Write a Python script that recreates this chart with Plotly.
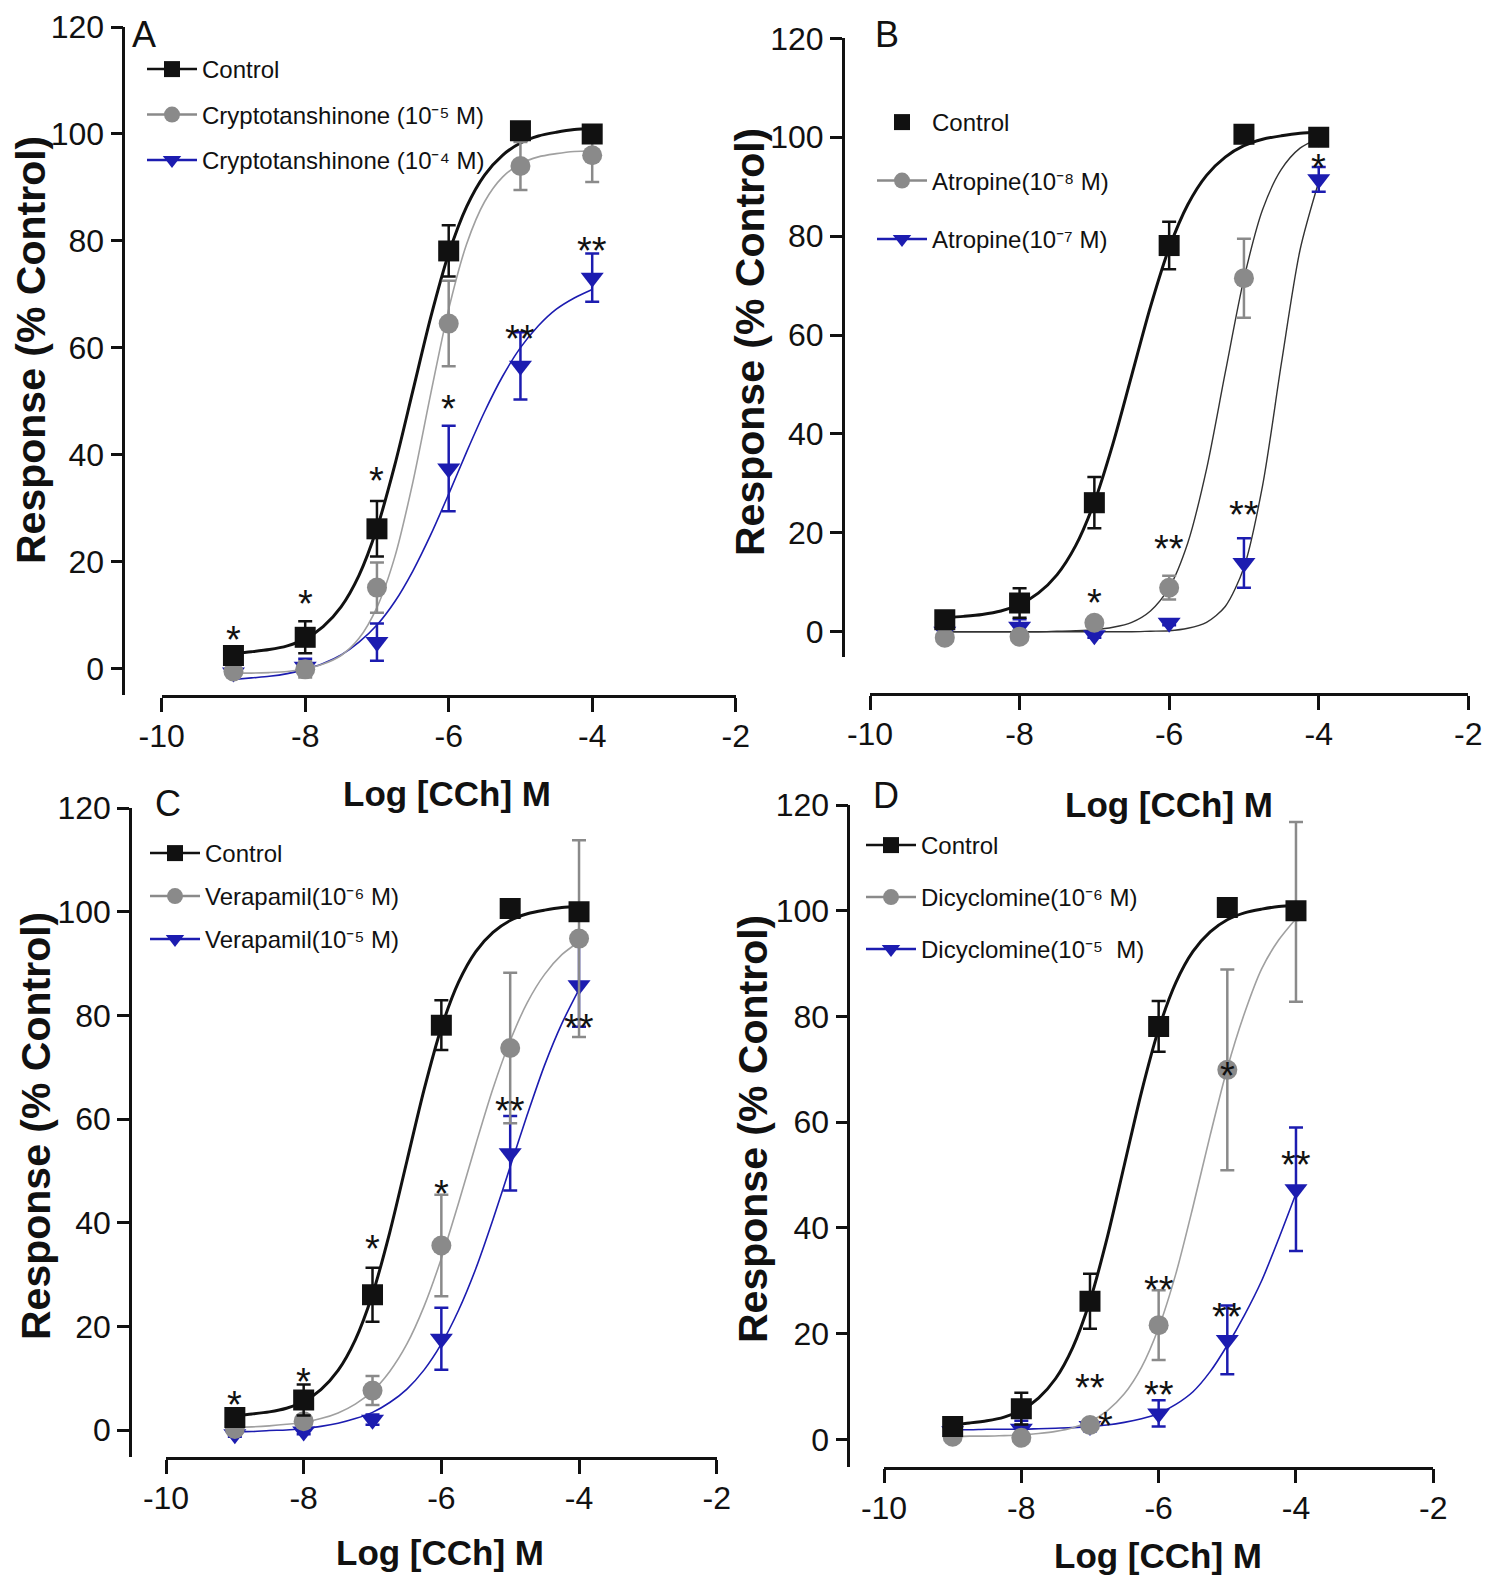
"""Carbachol concentration-response curves with four antagonist panels (A-D).

Mean +/- SEM responses (% of control) with the fitted sigmoid curves,
laid out like the GraphPad figure: offset axes, panel letters, and
significance stars above the points.
"""
import plotly.graph_objects as go

W, H = 1505, 1585
PAGE_MARGIN = 8  # the browser body margin shifts the figure by this much

# ---- data -----------------------------------------------------------------
LOG_CCH = [-9, -8, -7, -6, -5, -4]
FIT_X = [-9, -8.75, -8.5, -8.25, -8, -7.75, -7.5, -7.25, -7, -6.75, -6.5,
         -6.25, -6, -5.75, -5.5, -5.25, -5, -4.75, -4.5, -4.25, -4]

CONTROL_MEAN = [2.4, 5.8, 26.1, 78.1, 100.6, 100.0]
CONTROL_SEM = [1.2, 3.0, 5.2, 4.8, 1.0, 1.0]
CONTROL_FIT = [2.8, 3.1, 3.5, 4.2, 5.5, 7.8, 11.5, 17.4, 26.2, 38.1, 51.9,
               65.7, 77.6, 86.4, 92.3, 96.0, 98.3, 99.6, 100.3, 100.8, 101.0]

CRYPTO5_MEAN = [-0.6, -0.2, 15.1, 64.5, 94.0, 96.0]
CRYPTO5_SEM = [1.0, 1.5, 4.7, 8.0, 4.5, 5.0]
CRYPTO5_FIT = [-0.9, -0.9, -0.8, -0.6, -0.1, 0.8, 2.4, 5.6, 11.4, 20.9, 34.8,
               51.4, 67.2, 79.4, 87.3, 91.9, 94.4, 95.7, 96.3, 96.7, 96.8]

CRYPTO4_MEAN = [-0.8, 0.3, 4.9, 37.4, 56.6, 73.1]
CRYPTO4_SEM = [0.8, 1.5, 3.5, 8.0, 6.3, 4.5]
CRYPTO4_FIT = [-2.1, -1.8, -1.5, -1.0, -0.2, 0.9, 2.5, 4.9, 8.1, 12.5, 18.2,
               25.0, 32.6, 40.5, 48.0, 54.6, 60.0, 64.1, 67.2, 69.3, 70.9]

ATROPINE8_MEAN = [-1.2, -1.0, 1.8, 8.9, 71.5, 100.0]
ATROPINE8_SEM = [0.8, 0.8, 1.0, 2.4, 8.0, 1.0]
ATROPINE8_FIT = [0.0, 0.0, 0.0, 0.0, 0.0, 0.0, 0.1, 0.2, 0.4, 0.9, 1.9,
                 4.2, 8.9, 18.0, 32.9, 52.4, 71.4, 85.4, 93.5, 97.8, 99.8]

ATROPINE7_MEAN = [0.0, 1.0, -0.7, 1.8, 13.9, 91.5]
ATROPINE7_SEM = [0.5, 1.5, 0.5, 0.5, 5.0, 2.5]
ATROPINE7_FIT = [0.0, 0.0, 0.0, 0.0, 0.0, 0.0, 0.0, 0.0, 0.0, 0.0, 0.0,
                 0.1, 0.2, 0.7, 1.9, 5.1, 13.0, 29.6, 54.2, 77.2, 91.0]

VERAPAMIL6_MEAN = [0.2, 1.7, 7.6, 35.6, 73.7, 94.8]
VERAPAMIL6_SEM = [0.5, 1.0, 2.8, 9.8, 14.5, 19.0]
VERAPAMIL6_FIT = [0.5, 0.6, 0.8, 1.1, 1.5, 2.2, 3.3, 5.0, 7.5, 11.3, 16.6,
                  23.9, 33.1, 43.8, 55.1, 65.9, 75.1, 82.5, 87.9, 91.7, 94.2]

VERAPAMIL5_MEAN = [-0.8, -0.3, 2.0, 17.6, 53.4, 85.8]
VERAPAMIL5_SEM = [0.5, 0.5, 1.0, 6.0, 7.2, 8.0]
VERAPAMIL5_FIT = [-0.3, -0.3, -0.1, 0.0, 0.3, 0.7, 1.3, 2.2, 3.4, 5.3, 7.9,
                  11.6, 16.6, 23.1, 31.1, 40.6, 50.8, 60.9, 70.4, 78.4, 85.0]

DICYCLO6_MEAN = [0.5, 0.3, 2.7, 21.6, 69.9, 99.8]
DICYCLO6_SEM = [0.5, 0.5, 1.0, 6.6, 19.0, 17.0]
DICYCLO6_FIT = [0.5, 0.6, 0.6, 0.7, 0.8, 1.1, 1.5, 2.2, 3.4, 5.4, 8.6,
                13.6, 21.1, 31.3, 44.0, 57.5, 70.2, 80.6, 89.0, 94.5, 98.5]

DICYCLO5_MEAN = [1.5, 2.0, 2.5, 4.9, 18.8, 47.3]
DICYCLO5_SEM = [0.5, 1.5, 1.0, 2.5, 6.5, 11.7]
DICYCLO5_FIT = [1.8, 1.8, 1.9, 1.9, 1.9, 2.0, 2.1, 2.2, 2.4, 2.7, 3.2,
                3.9, 4.9, 6.6, 9.0, 12.8, 17.8, 23.5, 30.0, 38.0, 46.5]

LABELS_A = ["Control", "Cryptotanshinone (10⁻⁵ M)", "Cryptotanshinone (10⁻⁴ M)"]
LABELS_B = ["Control", "Atropine(10⁻⁸ M)", "Atropine(10⁻⁷ M)"]
LABELS_C = ["Control", "Verapamil(10⁻⁶ M)", "Verapamil(10⁻⁵ M)"]
LABELS_D = ["Control", "Dicyclomine(10⁻⁶ M)", "Dicyclomine(10⁻⁵  M)"]

STARS_A_X = [-9, -8, -7, -6, -5, -4]
STARS_A_Y = [7.2, 13.9, 36.9, 50.4, 63.4, 79.9]
STARS_A_TEXT = ["*", "*", "*", "*", "**", "**"]
STARS_B_X = [-7, -6, -5, -4]
STARS_B_Y = [7.9, 18.7, 25.6, 95.8]
STARS_B_TEXT = ["*", "**", "**", "*"]
STARS_C_X = [-9, -8, -7, -6, -5, -4]
STARS_C_Y = [6.7, 11.2, 36.8, 47.4, 63.5, 79.5]
STARS_C_TEXT = ["*", "*", "*", "*", "**", "**"]
STARS_D_X = [-7, -6.78, -6, -6, -5, -5, -4]
STARS_D_Y = [11.6, 4.4, 10.3, 30.1, 25.0, 70.6, 53.7]
STARS_D_TEXT = ["**", "*", "**", "**", "**", "*", "**"]

X_TICKS = [-10, -8, -6, -4, -2]
X_TICK_TEXT = ["-10", "-8", "-6", "-4", "-2"]
Y_TICKS = [0, 20, 40, 60, 80, 100, 120]

# ---- style ----------------------------------------------------------------
BLACK = "#111111"
GREY = "#8a8a8a"
GREY_LINE = "#a0a0a0"
BLUE = "#1c1cb0"
SANS = "Liberation Sans, Arial, sans-serif"


def px(x):
    return (x - PAGE_MARGIN) / W


def py(y):
    return 1 - (y - PAGE_MARGIN) / H


# pixel geometry of each panel in the reference image
GEOM = {
    "A": dict(yax=123.3, x0=161.7, x1=735.7, top=27.0, zero=668.3, bot=695.0, xline=None,
              leg=(172, 69, 11.3), letter=(144, 34), xt=(447, 793), yt=(31, 350)),
    "B": dict(yax=842.7, x0=870.0, x1=1468.3, top=38.4, zero=631.7, bot=657.3, xline=694.0,
              leg=(902, 122, 24.3), letter=(887, 34), xt=(1169, 805), yt=(750, 342)),
    "C": dict(yax=130.0, x0=166.0, x1=716.7, top=808.0, zero=1430.0, bot=1457.3, xline=None,
              leg=(175, 853, 8.8), letter=(168, 803), xt=(440, 1552), yt=(36, 1126)),
    "D": dict(yax=848.3, x0=884.0, x1=1433.3, top=805.0, zero=1439.3, bot=1466.7, xline=None,
              leg=(891, 845, 17.8), letter=(886, 795), xt=(1158, 1555), yt=(753, 1129)),
}

PANELS = [
    ("A", LABELS_A, [(CONTROL_MEAN, CONTROL_SEM, CONTROL_FIT),
                     (CRYPTO5_MEAN, CRYPTO5_SEM, CRYPTO5_FIT),
                     (CRYPTO4_MEAN, CRYPTO4_SEM, CRYPTO4_FIT)],
     (STARS_A_X, STARS_A_Y, STARS_A_TEXT)),
    ("B", LABELS_B, [(CONTROL_MEAN, CONTROL_SEM, CONTROL_FIT),
                     (ATROPINE8_MEAN, ATROPINE8_SEM, ATROPINE8_FIT),
                     (ATROPINE7_MEAN, ATROPINE7_SEM, ATROPINE7_FIT)],
     (STARS_B_X, STARS_B_Y, STARS_B_TEXT)),
    ("C", LABELS_C, [(CONTROL_MEAN, CONTROL_SEM, CONTROL_FIT),
                     (VERAPAMIL6_MEAN, VERAPAMIL6_SEM, VERAPAMIL6_FIT),
                     (VERAPAMIL5_MEAN, VERAPAMIL5_SEM, VERAPAMIL5_FIT)],
     (STARS_C_X, STARS_C_Y, STARS_C_TEXT)),
    ("D", LABELS_D, [(CONTROL_MEAN, CONTROL_SEM, CONTROL_FIT),
                     (DICYCLO6_MEAN, DICYCLO6_SEM, DICYCLO6_FIT),
                     (DICYCLO5_MEAN, DICYCLO5_SEM, DICYCLO5_FIT)],
     (STARS_D_X, STARS_D_Y, STARS_D_TEXT)),
]

# per series: marker symbol, marker colour, marker size, curve colour, curve width
SERIES_STYLE = [("square", BLACK, 21, BLACK, 3.0),
                ("circle", GREY, 20, GREY_LINE, 1.6),
                ("triangle-down", BLUE, 20, BLUE, 1.6)]

fig = go.Figure()
annotations = []

for i, (letter, labels, series, stars) in enumerate(PANELS):
    g = GEOM[letter]
    n = "" if i == 0 else str(i + 1)
    xa, ya = "x" + n, "y" + n
    legend_id = "legend" + n

    unit = (g["zero"] - g["top"]) / 120.0
    ymin = -(g["bot"] - g["zero"]) / unit

    # fitted curves underneath
    for k in (2, 1, 0):
        symbol, mcolor, msize, ccolor, cwidth = SERIES_STYLE[k]
        if letter == "B" and k > 0:
            ccolor, cwidth = "#333333", 1.4
        fig.add_trace(go.Scatter(x=FIT_X, y=series[k][2], mode="lines", xaxis=xa, yaxis=ya,
                                 line=dict(color=ccolor, width=cwidth, shape="spline",
                                           smoothing=0.8),
                                 showlegend=False, hoverinfo="skip"))
    # points with SEM bars, control drawn last (on top)
    for k in (2, 1, 0):
        symbol, mcolor, msize, ccolor, cwidth = SERIES_STYLE[k]
        mean, sem, _ = series[k]
        fig.add_trace(go.Scatter(x=LOG_CCH, y=mean, mode="markers", xaxis=xa, yaxis=ya,
                                 marker=dict(symbol=symbol, color=mcolor, size=msize,
                                             line=dict(width=0)),
                                 error_y=dict(type="data", array=sem, color=mcolor,
                                              thickness=2.5, width=7),
                                 showlegend=False))
    # legend entries (line through the symbol, as in the original keys)
    for k in range(3):
        symbol, mcolor, msize, ccolor, cwidth = SERIES_STYLE[k]
        mode = "markers" if (letter == "B" and k == 0) else "lines+markers"
        fig.add_trace(go.Scatter(x=[None], y=[None], mode=mode, xaxis=xa, yaxis=ya,
                                 name=labels[k], legend=legend_id,
                                 legendgroup=f"{letter}{k}",
                                 marker=dict(symbol=symbol, color=mcolor, size=16),
                                 line=dict(color=mcolor, width=2.5)))

    sx, sy, gap = g["leg"]
    fig.update_layout({legend_id: dict(
        x=px(sx - 30), y=py(sy - 22), xanchor="left", yanchor="top", itemwidth=50,
        bgcolor="rgba(0,0,0,0)", borderwidth=0, tracegroupgap=gap,
        font=dict(family=SANS, size=24, color=BLACK))})

    xaxis = dict(domain=[px(g["x0"]), px(g["x1"])], range=[-10, -2], tickvals=X_TICKS,
                 ticktext=X_TICK_TEXT, ticklabeloverflow="allow",
                 showline=True, linecolor=BLACK, linewidth=2.5, ticks="outside",
                 ticklen=14, tickwidth=2.5, tickcolor=BLACK, showgrid=False,
                 zeroline=False, ticklabelstandoff=-3, automargin=False,
                 tickfont=dict(family=SANS, size=32, color=BLACK))
    if g["xline"] is None:
        xaxis["anchor"] = ya
    else:
        xaxis.update(anchor="free", position=py(g["xline"]))
    yaxis = dict(domain=[py(g["bot"]), py(g["top"])], range=[ymin, 120], tickvals=Y_TICKS,
                 anchor="free", position=px(g["yax"]), showline=True, linecolor=BLACK,
                 linewidth=2.5, ticks="outside", ticklen=12, tickwidth=2.5,
                 tickcolor=BLACK, showgrid=False, zeroline=False, automargin=False,
                 ticklabeloverflow="allow",
                 tickfont=dict(family=SANS, size=32, color=BLACK))
    fig.update_layout({"xaxis" + n: xaxis, "yaxis" + n: yaxis})

    # panel letter and axis titles
    lx, ly = g["letter"]
    annotations.append(dict(text=letter, x=px(lx), y=py(ly), xref="paper", yref="paper",
                            showarrow=False, xanchor="center", yanchor="middle",
                            font=dict(family=SANS, size=36, color=BLACK)))
    tx, ty = g["xt"]
    annotations.append(dict(text="<b>Log [CCh] M</b>", x=px(tx), y=py(ty), xref="paper",
                            yref="paper", showarrow=False, xanchor="center",
                            yanchor="middle", font=dict(family=SANS, size=35, color=BLACK)))
    tx, ty = g["yt"]
    annotations.append(dict(text="<b>Response (% Control)</b>", x=px(tx), y=py(ty),
                            xref="paper", yref="paper", showarrow=False, textangle=-90,
                            xanchor="center", yanchor="middle",
                            font=dict(family=SANS, size=41, color=BLACK)))

    # significance stars
    for x, y, t in zip(*stars):
        annotations.append(dict(text=t, x=x, y=y, xref=xa, yref=ya, showarrow=False,
                                xanchor="center", yanchor="middle", yshift=-10,
                                font=dict(family=SANS, size=38, color=BLACK)))

fig.update_layout(width=W, height=H, margin=dict(l=0, r=0, t=0, b=0, autoexpand=False),
                  paper_bgcolor="white", plot_bgcolor="white", showlegend=True,
                  annotations=annotations)

fig.write_html("out.html")
